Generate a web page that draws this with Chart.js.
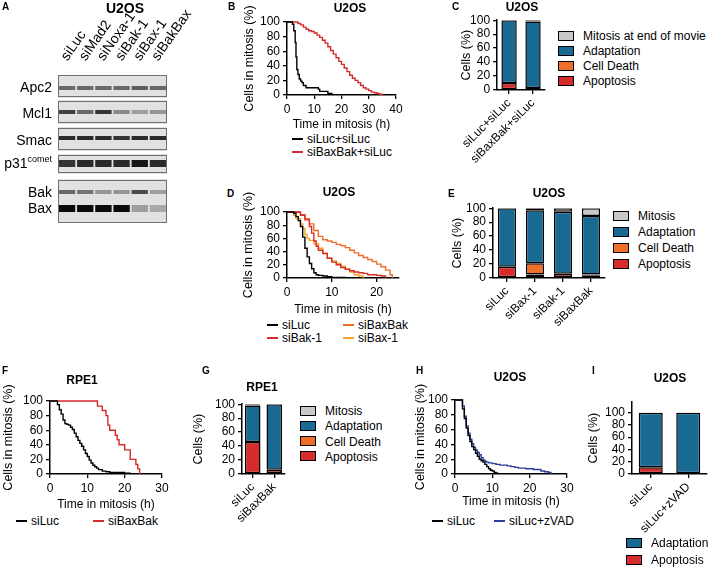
<!DOCTYPE html>
<html>
<head>
<meta charset="utf-8">
<script src="https://cdn.jsdelivr.net/npm/chart.js@4.4.1/dist/chart.umd.min.js"></script>
<style>
body { margin: 0; background: #fff; }
#fig { position: relative; width: 708px; height: 568px; overflow: hidden; background: #fff;
       font-family: 'Liberation Sans', Arial, sans-serif; color: #000; }
canvas { position: absolute; }
.t { position: absolute; white-space: nowrap; line-height: 1; font-size: 12px; }
.c { transform: translateX(-50%); }
.b { font-weight: bold; }
.t sup { font-size: 9px; line-height: 0; vertical-align: 6px; }
</style>
</head>
<body>
<div id="fig"></div>
<script>
// Colores de las series.
const ROJO = '#d62a2b';
const NARANJA = '#ee6e2a';
const AZUL = '#186a93';
const GRIS = '#c8c8c8';
const AMARILLO = '#f5a42a';
const AZUL_LINEA = '#2a3c9c';

// Panel A: carriles y densidad de las bandas (0 = sin banda, 1 = negra).
const carrilesA = ['siLuc', 'siMad2', 'siNoxa-1', 'siBak-1', 'siBax-1', 'siBakBax'];
const filasA = ['Apc2', 'Mcl1', 'Smac', 'p31<sup>comet</sup>', 'Bak', 'Bax'];
const intApc2 = [0.55, 0.55, 0.55, 0.55, 0.6, 0.55];
const intMcl1 = [0.75, 0.55, 0.8, 0.4, 0.3, 0.35];
const intSmac = [0.85, 0.85, 0.85, 0.8, 0.85, 0.85];
const intP31 = [0.8, 0.85, 0.85, 0.85, 0.95, 0.85];
const intBak = [0.55, 0.5, 0.35, 0.35, 0.7, 0.3];
const intBax = [1, 1, 1, 1, 0.3, 0.25];

// Panel B: U2OS, siLuc+siLuc y siBaxBak+siLuc.
const tB_luc = [0, 2, 2.5, 3, 3.3, 3.6, 4, 4.5, 5, 5.5, 6, 7, 11.5, 12, 15, 16.5];
const yB_luc = [100, 97, 88, 72, 52, 35, 28, 22, 19, 17, 13, 10, 8, 5, 2, 0];
const tB_bb = [0, 4, 5, 6, 7, 8, 9, 10, 11, 12, 13, 14, 15, 16, 17, 18, 19, 20, 21, 22, 23, 24, 25, 26, 27, 28, 29, 30, 31, 32, 33, 34, 35];
const yB_bb = [100, 98, 96, 93, 90, 88, 87, 85, 82, 79, 75, 71, 66, 61, 56, 51, 46, 42, 37, 32, 27, 23, 20, 17, 13, 10, 8, 6, 4, 3, 2, 1, 0];

// Panel C: U2OS, destino celular.
const catsC = ['siLuc+siLuc', 'siBaxBak+siLuc'];
const apoC = [10, 3];
const muerteC = [0, 0];
const adapC = [90, 95];
const mitC = [0, 2];

// Panel D: U2OS, cuatro siRNA.
const tD_luc = [0, 1.5, 2, 2.5, 3, 3.5, 4, 4.5, 5, 5.5, 6, 6.5, 7, 8, 9, 10, 13];
const yD_luc = [100, 98, 93, 87, 78, 62, 45, 32, 22, 14, 8, 5, 4, 3, 2, 1, 0];
const tD_bak = [0, 2, 3, 4, 5, 5.5, 6, 6.5, 7, 8, 9, 10, 11, 12, 13, 14, 15, 16, 17, 18, 20, 21, 22];
const yD_bak = [100, 100, 95, 88, 78, 68, 56, 48, 42, 37, 30, 24, 20, 16, 13, 11, 9, 8, 7, 5, 4, 3, 0];
const tD_bb = [0, 2, 3, 4, 5, 6, 7, 8, 9, 10, 11, 12, 13, 14, 15, 16, 17, 18, 19, 20, 21, 22, 23, 23.5];
const yD_bb = [100, 100, 96, 90, 82, 72, 63, 58, 56, 54, 51, 49, 46, 42, 38, 34, 31, 28, 25, 21, 17, 12, 5, 0];
const tD_bax = [0, 1, 1.5, 2, 3, 3.5, 4, 4.5, 5, 6, 7, 8, 9, 10, 11, 12, 13, 14, 15, 16, 17];
const yD_bax = [100, 100, 95, 90, 82, 75, 66, 60, 57, 52, 45, 38, 30, 26, 22, 18, 14, 9, 5, 3, 0];

// Panel E: U2OS, destino celular.
const catsE = ['siLuc', 'siBax-1', 'siBak-1', 'siBaxBak'];
const apoE = [16, 5, 6, 4];
const muerteE = [0, 16, 0, 1];
const adapE = [84, 76, 89, 84];
const mitE = [0, 3, 5, 11];

// Panel F: RPE1.
const tF_luc = [0, 2, 2.5, 3, 3.5, 4, 4.5, 5, 5.5, 6, 6.5, 7, 7.5, 8, 8.5, 9, 9.5, 10, 10.5, 11, 11.5, 12, 12.5, 13, 14, 15, 16, 18, 20, 21.5];
const yF_luc = [100, 95, 88, 82, 74, 69, 68, 67, 64, 61, 56, 51, 46, 42, 38, 33, 28, 24, 19, 15, 12, 10, 8, 6, 4, 3, 2, 2, 1, 0];
const tF_bb = [0, 12.7, 14, 15, 15.5, 16, 17.5, 18, 18.5, 20, 21.5, 23, 23.5, 24];
const yF_bb = [100, 93, 87, 80, 67, 60, 53, 47, 40, 33, 20, 13, 7, 0];

// Panel G: RPE1, destino celular.
const catsG = ['siLuc', 'siBaxBak'];
const apoG = [46, 6];
const muerteG = [0, 0];
const adapG = [52, 94];
const mitG = [2, 0];

// Panel H: U2OS con zVAD.
const tH_luc = [0, 2, 2.5, 3, 3.5, 4, 4.5, 5, 5.5, 6, 6.5, 7, 7.5, 8, 8.5, 9, 9.5, 10, 10.5, 11, 11.5];
const yH_luc = [100, 88, 75, 62, 52, 44, 37, 33, 28, 24, 20, 18, 16, 13, 10, 7, 5, 4, 2, 1, 0];
const tH_zvad = [0, 2, 2.5, 3, 3.5, 4, 4.5, 5, 5.5, 6, 6.5, 7, 7.5, 8, 8.5, 9, 10, 11, 12, 13, 14, 15, 16, 17, 19, 21, 23, 24, 25, 25.7];
const yH_zvad = [100, 92, 78, 65, 55, 47, 41, 36, 32, 29, 26, 22, 19, 17, 16, 15, 14, 13, 12, 12, 11, 10, 9, 8, 7, 6, 4, 3, 2, 0];

// Panel I: U2OS, destino celular con zVAD.
const catsI = ['siLuc', 'siLuc+zVAD'];
const apoI = [11, 0];
const adapI = [89, 100];

const FUENTE = "'Liberation Sans', Arial, sans-serif";
Chart.defaults.font.family = FUENTE;
Chart.defaults.font.size = 12;
Chart.defaults.color = '#000';

const fig = document.getElementById('fig');

// Función para crear un texto posicionado dentro de la figura.
const texto = (x, y, html, clase, tam) => {
    const d = document.createElement('div');
    d.className = 't ' + (clase || '');
    d.style.left = x + 'px';
    d.style.top = y + 'px';
    if (tam) d.style.fontSize = tam + 'px';
    d.innerHTML = html;
    fig.appendChild(d);
    return d;
};

// Función para crear un canvas que deja el área de trazado en "area".
const crearCanvas = (area, m) => {
    const c = document.createElement('canvas');
    const w = area.x1 - area.x0 + m.l + m.r;
    const h = area.y1 - area.y0 + m.t + m.b;
    c.width = w;
    c.height = h;
    c.style.left = (area.x0 - m.l) + 'px';
    c.style.top = (area.y0 - m.t) + 'px';
    c.style.width = w + 'px';
    c.style.height = h + 'px';
    fig.appendChild(c);
    return c;
};

// Eje lineal con marcas hacia fuera y sin rejilla.
const ejeLineal = (min, max, paso, titulo, esY, tam) => ({
    type: 'linear', min: min, max: max,
    ticks: { stepSize: paso, includeBounds: false, autoSkip: false, padding: 3, maxRotation: 0, font: { size: 12 } },
    grid: { drawOnChartArea: false, tickLength: 4, color: '#000', lineWidth: 1.3 },
    border: { color: '#000', width: 1.5 },
    title: { display: !!titulo, text: titulo, padding: 0, font: { size: esY ? 12.5 : 12 } },
    afterFit: s => { if (esY) s.width = tam; else s.height = tam; }
});

// Curvas de permanencia en mitosis (escalonadas).
const graficoSupervivencia = (area, m, xMax, series) => {
    const canvas = crearCanvas(area, m);
    new Chart(canvas, {
        type: 'line',
        data: {
            datasets: series.map(s => ({
                label: s.label,
                data: s.t.map((t, i) => ({ x: t, y: s.y[i] })),
                borderColor: s.color,
                borderWidth: 1.4,
                stepped: true,
                pointRadius: 0,
                clip: false
            }))
        },
        options: {
            responsive: false, animation: false,
            layout: { padding: { top: m.t, right: m.r, left: 0, bottom: 0 } },
            plugins: { legend: { display: false }, tooltip: { enabled: false } },
            scales: {
                x: ejeLineal(0, xMax, 10, 'Time in mitosis (h)', false, m.b),
                y: ejeLineal(0, 100, 20, 'Cells in mitosis (%)', true, m.l)
            }
        }
    });
};

// Barras apiladas del destino celular.
const graficoBarras = (area, m, cats, series, yMax, ancho) => {
    const canvas = crearCanvas(area, m);
    const ejeY = ejeLineal(0, yMax, 20, 'Cells (%)', true, m.l);
    ejeY.stacked = true;
    new Chart(canvas, {
        type: 'bar',
        data: {
            labels: cats,
            datasets: series.map(s => ({
                label: s.label, data: s.data,
                backgroundColor: s.color, borderColor: '#000', borderWidth: 1.5,
                borderSkipped: false, barPercentage: ancho, categoryPercentage: 1
            }))
        },
        options: {
            responsive: false, animation: false,
            layout: { padding: { top: m.t, right: m.r, left: 0, bottom: 0 } },
            plugins: { legend: { display: false }, tooltip: { enabled: false } },
            scales: {
                x: {
                    stacked: true,
                    ticks: { minRotation: 45, maxRotation: 45, autoSkip: false, padding: 2, font: { size: 12 } },
                    grid: { offset: false, drawOnChartArea: false, tickLength: 4, color: '#000', lineWidth: 1.3 },
                    border: { color: '#000', width: 1.5 },
                    afterFit: s => { s.height = m.b; }
                },
                y: ejeY
            }
        }
    });
};

// Leyenda de cuadros para las barras.
const leyendaCajas = (x, yc, paso, series) => {
    series.slice().reverse().forEach((s, i) => {
        const y = yc + i * paso;
        const caja = document.createElement('div');
        caja.style.cssText = `position:absolute;left:${x}px;top:${y - 5.5}px;width:14px;height:8px;` +
            `background:${s.color};border:1.5px solid #000;`;
        fig.appendChild(caja);
        texto(x + 25, y - 6, s.label);
    });
};

// Leyenda de líneas para las curvas.
const leyendaLineas = (items) => {
    items.forEach(it => {
        const l = document.createElement('div');
        l.style.cssText = `position:absolute;left:${it.x}px;top:${it.y - 1}px;width:11px;height:1.6px;background:${it.color};`;
        fig.appendChild(l);
        texto(it.x + 15, it.y - 6, it.label);
    });
};

// ---------- Panel A: western blot ----------
const cajasA = [[0, 22], [26, 48], [53, 75], [80, 98], [105, 148]];
const bandasA = [
    { rango: [11, 15], int: intApc2 },
    { rango: [35, 39], int: intMcl1 },
    { rango: [61, 65], int: intSmac },
    { rango: [85, 92], int: intP31 },
    { rango: [115, 119], int: intBak },
    { rango: [130, 137], int: intBax }
];
const grisBanda = d => { const v = Math.round(222 - 212 * d); return `rgb(${v},${v},${v})`; };

const bordeCajas = {
    id: 'bordeCajas',
    afterDatasetsDraw(chart) {
        const { ctx, chartArea, scales: { y } } = chart;
        ctx.save();
        ctx.strokeStyle = '#707070';
        ctx.lineWidth = 1;
        cajasA.forEach(f => {
            const t = y.getPixelForValue(f[0]);
            const b = y.getPixelForValue(f[1]);
            ctx.strokeRect(Math.round(chartArea.left) + 0.5, Math.round(t) + 0.5, Math.round(chartArea.width) - 1, Math.round(b - t) - 1);
        });
        ctx.restore();
    }
};

(() => {
    const area = { x0: 58, y0: 75, x1: 167, y1: 223 };
    const m = { l: 12, t: 74, r: 48, b: 2 };
    const canvas = crearCanvas(area, m);
    const dsBandas = bandasA.map(b => ({
        data: carrilesA.map(() => b.rango),
        backgroundColor: b.int.map(grisBanda),
        borderWidth: 0, barPercentage: 0.9, categoryPercentage: 1, grouped: false, order: 1
    }));
    const dsCajas = cajasA.map(f => ({
        data: carrilesA.map(() => f),
        backgroundColor: '#e1e1e1',
        borderWidth: 0, barPercentage: 1, categoryPercentage: 1, grouped: false, order: 2, inflateAmount: 1
    }));
    new Chart(canvas, {
        type: 'bar',
        data: { labels: carrilesA, datasets: dsBandas.concat(dsCajas) },
        options: {
            responsive: false, animation: false,
            layout: { padding: { top: 0, right: m.r, left: m.l, bottom: m.b } },
            plugins: { legend: { display: false }, tooltip: { enabled: false } },
            scales: {
                x: {
                    position: 'top',
                    ticks: { minRotation: 55, maxRotation: 55, autoSkip: false, padding: 3, labelOffset: 11, font: { size: 14 } },
                    grid: { display: false }, border: { display: false },
                    afterFit: s => { s.height = m.t; }
                },
                y: { display: false, min: 0, max: 148, reverse: true }
            }
        },
        plugins: [bordeCajas]
    });
})();
const centrosA = [87, 113, 140, 163, 192, 208];
filasA.forEach((f, i) => {
    const d = texto(0, centrosA[i] - 7, f, '', 14);
    d.style.left = 'auto';
    d.style.right = (708 - 52) + 'px';
});

// ---------- Panel B ----------
const seriesB = [
    { label: 'siLuc+siLuc', t: tB_luc, y: yB_luc, color: '#000' },
    { label: 'siBaxBak+siLuc', t: tB_bb, y: yB_bb, color: ROJO }
];
graficoSupervivencia({ x0: 287, y0: 22, x1: 396, y1: 95 }, { l: 45, t: 28, r: 14, b: 37 }, 40, seriesB);
leyendaLineas([
    { x: 292, y: 139, color: '#000', label: seriesB[0].label },
    { x: 292, y: 152, color: ROJO, label: seriesB[1].label }
]);

// ---------- Panel C ----------
const seriesC = [
    { label: 'Apoptosis', data: apoC, color: ROJO },
    { label: 'Cell Death', data: muerteC, color: NARANJA },
    { label: 'Adaptation', data: adapC, color: AZUL },
    { label: 'Mitosis at end of movie', data: mitC, color: GRIS }
];
graficoBarras({ x0: 491, y0: 20, x1: 545, y1: 90 }, { l: 38, t: 10, r: 6, b: 75 }, catsC, seriesC, 100, 0.64);
leyendaCajas(558, 36, 15, seriesC);

// ---------- Panel D ----------
const seriesD = [
    { label: 'siLuc', t: tD_luc, y: yD_luc, color: '#000' },
    { label: 'siBak-1', t: tD_bak, y: yD_bak, color: ROJO },
    { label: 'siBax-1', t: tD_bax, y: yD_bax, color: AMARILLO },
    { label: 'siBaxBak', t: tD_bb, y: yD_bb, color: NARANJA }
];
graficoSupervivencia({ x0: 287, y0: 212, x1: 399, y1: 278 }, { l: 46, t: 28, r: 14, b: 39 }, 25, seriesD);
leyendaLineas([
    { x: 267, y: 325, color: '#000', label: seriesD[0].label },
    { x: 267, y: 338, color: ROJO, label: seriesD[1].label },
    { x: 343, y: 325, color: NARANJA, label: seriesD[3].label },
    { x: 343, y: 338, color: AMARILLO, label: seriesD[2].label }
]);

// ---------- Panel E ----------
const seriesE = [
    { label: 'Apoptosis', data: apoE, color: ROJO },
    { label: 'Cell Death', data: muerteE, color: NARANJA },
    { label: 'Adaptation', data: adapE, color: AZUL },
    { label: 'Mitosis', data: mitE, color: GRIS }
];
graficoBarras({ x0: 493, y0: 208, x1: 605, y1: 278 }, { l: 43, t: 10, r: 6, b: 60 }, catsE, seriesE, 100, 0.65);
leyendaCajas(613, 216, 16, seriesE);

// ---------- Panel F ----------
const seriesF = [
    { label: 'siLuc', t: tF_luc, y: yF_luc, color: '#000' },
    { label: 'siBaxBak', t: tF_bb, y: yF_bb, color: ROJO }
];
graficoSupervivencia({ x0: 50, y0: 401, x1: 162, y1: 474 }, { l: 49, t: 28, r: 14, b: 38 }, 30, seriesF);
leyendaLineas([
    { x: 16, y: 521, color: '#000', label: seriesF[0].label },
    { x: 93, y: 521, color: ROJO, label: seriesF[1].label }
]);

// ---------- Panel G ----------
const seriesG = [
    { label: 'Apoptosis', data: apoG, color: ROJO },
    { label: 'Cell Death', data: muerteG, color: NARANJA },
    { label: 'Adaptation', data: adapG, color: AZUL },
    { label: 'Mitosis', data: mitG, color: GRIS }
];
graficoBarras({ x0: 242, y0: 404, x1: 285, y1: 474 }, { l: 51, t: 10, r: 6, b: 60 }, catsG, seriesG, 100, 0.72);
leyendaCajas(300, 411, 15.3, seriesG);

// ---------- Panel H ----------
const seriesH = [
    { label: 'siLuc', t: tH_luc, y: yH_luc, color: '#000' },
    { label: 'siLuc+zVAD', t: tH_zvad, y: yH_zvad, color: AZUL_LINEA }
];
graficoSupervivencia({ x0: 455, y0: 400, x1: 567, y1: 474 }, { l: 42, t: 28, r: 14, b: 35 }, 30, seriesH);
leyendaLineas([
    { x: 432, y: 521, color: '#000', label: seriesH[0].label },
    { x: 494, y: 521, color: AZUL_LINEA, label: seriesH[1].label }
]);

// ---------- Panel I ----------
const seriesI = [
    { label: 'Apoptosis', data: apoI, color: ROJO },
    { label: 'Adaptation', data: adapI, color: AZUL }
];
graficoBarras({ x0: 632, y0: 402, x1: 707, y1: 474 }, { l: 46, t: 10, r: 1, b: 70 }, catsI, seriesI, 117, 0.64);
leyendaCajas(626, 543, 17, seriesI);

// ---------- Letras y títulos ----------
[['A', 2, 2], ['B', 228, 2], ['C', 452, 2], ['D', 227, 189], ['E', 448, 189],
 ['F', 2, 366], ['G', 202, 366], ['H', 416, 366], ['I', 592, 366]]
    .forEach(l => texto(l[1], l[2], l[0], 'b', 10));
[['U2OS', 125, 1, 14], ['U2OS', 350, 2, 12], ['U2OS', 522, 1, 12], ['U2OS', 339, 186, 12],
 ['U2OS', 549, 187, 12], ['RPE1', 82, 374, 12], ['RPE1', 262, 381, 12], ['U2OS', 510, 371, 12],
 ['U2OS', 670, 372, 12]]
    .forEach(t => texto(t[1], t[2], t[0], 'b c', t[3]));
</script>
</body>
</html>
